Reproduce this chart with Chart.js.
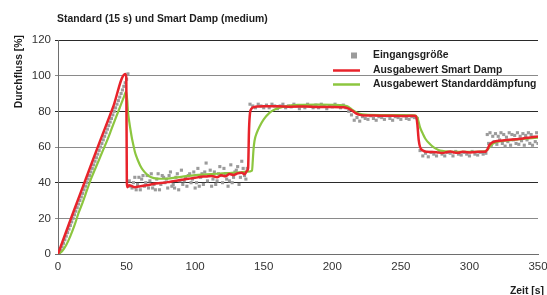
<!DOCTYPE html>
<html>
<head>
<meta charset="utf-8">
<script src="https://cdn.jsdelivr.net/npm/chart.js@4"></script>
<style>
    html, body { margin: 0; padding: 0; background: #ffffff; }
    #wrap { width: 547px; height: 295px; position: relative; }
</style>
</head>
<body>
<div id="wrap"><canvas id="dampChart"></canvas></div>
<script>
// -- Texts --
const TITLE = "Standard (15 s) und Smart Damp (medium)";
const X_TITLE = "Zeit [s]";
const Y_TITLE = "Durchfluss [%]";
const SERIES_LABELS = ["Eingangsgröße", "Ausgabewert Smart Damp", "Ausgabewert Standarddämpfung"];

// -- Ticks --
const X_TICKS = [0, 50, 100, 150, 200, 250, 300, 350];
const Y_TICKS = [0, 20, 40, 60, 80, 100, 120];

// -- Data: Eingangsgröße (measured input, gray squares) --
const inputT = [
    1, 2, 3, 4, 5, 6, 7, 8, 9, 10, 11, 12, 13, 14, 15, 16, 17, 18, 19, 20, 21, 22, 23, 24, 25, 26,
    27, 28, 29, 30, 31, 32, 33, 34, 35, 36, 37, 38, 39, 40, 41, 42, 43, 44, 45, 46, 47, 48, 49, 50, 51,
    52, 53, 54, 55, 56, 57, 58, 59, 60, 61, 62, 63, 64, 65, 66, 67, 68, 69, 70, 71, 72, 73, 74, 75,
    76, 77, 78, 79, 80, 81, 82, 83, 84, 85, 86, 87, 88, 89, 90, 91, 92, 93, 94, 95, 96, 97, 98, 99,
    100, 101, 102, 103, 104, 105, 106, 107, 108, 109, 110, 111, 112, 113, 114, 115, 116, 117, 118, 119,
    120, 121, 122, 123, 124, 125, 126, 127, 128, 129, 130, 131, 132, 133, 134, 135, 136, 137, 138,
    140, 142, 144, 146, 148, 150, 152, 154, 156, 158, 160, 162, 164, 166, 168, 170, 172, 174, 176, 178,
    180, 182, 184, 186, 188, 190, 192, 194, 196, 198, 200, 202, 204, 206, 208, 210, 212,
    214, 216, 218, 220, 222, 224, 226, 228, 230, 232, 234, 236, 238, 240, 242, 244, 246, 248, 250, 252,
    254, 256, 258, 260, 262,
    264, 266, 268, 270, 272, 274, 276, 278, 280, 282, 284, 286, 288, 290, 292, 294, 296, 298, 300, 302,
    304, 306, 308, 310, 312,
    313, 314, 315, 316, 317, 318, 319, 320, 321, 322, 323, 324, 325, 326, 327, 328, 329, 330, 331, 332,
    333, 334, 335, 336, 337, 338, 339, 340, 341, 342, 343, 344, 345, 346, 347, 348, 349, 350
];
const inputV = [
    0, 2, 4, 6, 8, 10, 12, 14, 16, 18, 20, 22, 24, 26, 28, 30, 32, 34, 36, 38, 40, 42, 44, 46, 48, 50,
    52, 54, 56, 58, 60, 62, 64, 66, 68, 70, 72, 74, 76, 78, 80, 82, 84, 86, 88, 90, 92, 94, 96, 98, 101,
    41, 38, 37, 40, 43, 36, 39, 43, 36, 42, 44, 38, 40, 44, 37, 41, 45, 37, 39, 36, 42, 45, 36, 39,
    44, 43, 40, 42, 37, 44, 46, 38, 39, 37, 43, 45, 36, 41, 47, 39, 41, 43, 38, 44, 45, 40, 42, 46,
    37, 40, 48, 38, 43, 45, 39, 46, 51, 41, 44, 47, 38, 42, 46, 39, 41, 45, 49, 44,
    40, 48, 45, 42, 38, 41, 50, 40, 43, 46, 47, 49, 39, 43, 52, 48, 44, 42, 48,
    84, 83, 82, 84, 83, 82, 83.5, 82, 84, 83, 81.5, 83, 84, 82, 83, 82.5, 84, 83, 81.5, 83,
    82, 84, 83, 82, 83.5, 82, 84, 83, 81.5, 83, 82.5, 84, 83, 82, 83.5, 82, 80,
    78, 75, 76.5, 74.5, 77, 76, 75.5, 77.5, 76, 75, 77, 76.5, 75.5, 77.5, 76, 75, 77, 76.5, 75.5, 77.5,
    76, 75.5, 77, 76.5, 76,
    58, 55, 56.5, 54.5, 57, 56, 55, 57.5, 56, 55, 57, 56.5, 55, 57.5, 56, 55.5, 57, 56, 55, 57.5,
    56, 55.5, 57, 56, 56.5,
    67, 62, 68, 61, 66, 63, 67.5, 61.5, 66, 64, 68, 62, 67, 60.5, 65.5, 63, 68, 61, 67, 64,
    66.5, 62, 68, 61.5, 66, 63.5, 67.5, 61, 66.5, 64, 68, 62, 67, 61, 65.5, 63, 68, 62
];

// -- Data: Ausgabewert Smart Damp (red) --
const smartT = [
    0, 10, 20, 30, 40, 49, 49.8, 50.2, 50.6, 52, 54, 56, 60, 63, 67, 70, 75, 80, 85, 90, 95, 100,
    104, 108, 112, 116, 119, 122, 125, 128, 131, 134, 136, 137.8, 138.6, 139.3, 140, 141, 143, 146,
    150, 160, 170, 180, 190, 200, 208, 211, 214, 217, 220, 223, 230, 240, 250, 258, 261, 262, 263,
    264, 266, 269, 272, 276, 280, 283, 286, 289, 292, 295, 298, 300, 303, 306, 311, 313, 314.5, 316,
    319, 324, 329, 334, 339, 344, 350
];
const smartV = [
    0, 21, 41.5, 62, 82, 101, 99, 40, 37.5, 38.5, 38, 37.5, 38, 38.4, 38.8, 39.4, 39.8, 40.3, 41, 41.6, 42.2, 42.7,
    43.3, 43.5, 43.8, 43.1, 44.2, 43.6, 44.8, 44.3, 45.2, 45.5, 44.7, 46.6, 48, 70, 79, 81.4, 82.4, 82.7,
    82.8, 82.8, 82.6, 82.7, 82.4, 82.5, 82.3, 81.8, 80.6, 79, 78, 77.7, 77.6, 77.5, 77.4, 77.5, 77.4, 73, 64,
    60, 58, 57.3, 57.2, 57.1, 56.6, 57, 57.5, 56.9, 56.8, 57.3, 57.1, 56.9, 57.1, 57.3, 57.3, 58.5, 61, 62.3,
    63.2, 63.6, 64, 64.4, 64.8, 65.3, 65.9
];

// -- Data: Ausgabewert Standarddämpfung (green) --
const stdT = [
    0, 3, 6, 9, 12, 15, 18, 21, 24, 27, 30, 33, 36, 39, 42, 45, 48, 49.7, 50.5, 51, 52, 53, 54, 55,
    56, 57, 58, 60, 62, 65, 68, 72, 78, 85, 92, 100, 108, 116, 124, 132, 138, 141.5, 142, 142.5, 143.3,
    145, 147, 150, 154, 158, 164, 170, 175, 190, 200, 208, 211, 214, 217, 220, 224, 235, 250, 260, 262,
    263, 264, 266, 268, 271, 274, 277, 280, 285, 295, 305, 311, 313, 315, 317, 320, 326, 335, 343, 350
];
const stdV = [
    0, 1.5, 5, 10, 16, 23, 29, 35.5, 42, 47.5, 53, 58.5, 64, 70, 76, 82, 88, 91, 86, 80, 74, 69, 64.5, 61,
    57.5, 55, 53, 49.5, 47, 44.5, 43, 42.3, 42.2, 42.8, 43.5, 44.2, 44.6, 45, 45.4, 45.8, 46.2, 46.8, 52, 58, 63.5,
    68, 71.5, 75.5, 79, 81, 82.5, 83.3, 83.6, 83.8, 83.7, 83.4, 82.8, 81.2, 79.6, 78.6, 78.1, 77.9, 77.9, 77.8, 76.5,
    74, 71, 67.5, 64.5, 61.8, 59.8, 58.5, 57.8, 57.4, 57.3, 57.3, 57.5, 58.3, 60.3, 61.8, 62.8, 63.5, 64.2, 64.8, 65.3
];

// -- Styles --
const FONT = "'Liberation Sans', Arial, sans-serif";
const COLOR_INPUT = '#9b9b9b';
const COLOR_SMART = '#e8232b';
const COLOR_STD = '#8cc63f';
const TEXT_DARK = '#1e1e1e';

function toPoints(xs, ys) {
    return xs.map((x, i) => ({ x: x, y: ys[i] }));
}

// draws title, axis titles and the in-plot legend
const decorPlugin = {
    id: 'decor',
    afterDraw(chart) {
        const ctx = chart.ctx;
        const ds = chart.data.datasets;
        ctx.save();
        ctx.fillStyle = TEXT_DARK;
        ctx.font = 'bold 10.4px ' + FONT;
        ctx.textBaseline = 'middle';

        ctx.textAlign = 'left';
        ctx.fillText(TITLE, 57, 19.5);

        ctx.textAlign = 'right';
        ctx.fillText(X_TITLE, 544, 291);

        ctx.save();
        ctx.translate(19, 35);
        ctx.rotate(-Math.PI / 2);
        ctx.textAlign = 'right';
        ctx.fillText(Y_TITLE, 0, 0);
        ctx.restore();

        // legend
        const rowsY = [55.5, 70.5, 84.5];
        ds.forEach((d, i) => {
            const y = rowsY[i];
            if (d.showLine === false) {
                ctx.fillStyle = d.backgroundColor;
                ctx.fillRect(351, y - 3, 6, 6);
            } else {
                ctx.strokeStyle = d.borderColor;
                ctx.lineWidth = 2.5;
                ctx.beginPath();
                ctx.moveTo(333, y);
                ctx.lineTo(360, y);
                ctx.stroke();
            }
            ctx.fillStyle = TEXT_DARK;
            ctx.textAlign = 'left';
            ctx.fillText(d.label, 373, y);
        });
        ctx.restore();
    }
};

function gridColor(ctx) {
    const v = ctx.tick ? ctx.tick.value : 0;
    if (v === 0) return '#6e6e6e';
    if (v === 120 || v === 80 || v === 40) return '#2a2a2a';
    return '#8a8a8a';
}

// -- Chart --
const chart = new Chart(document.getElementById('dampChart'), {
    type: 'line',
    data: {
        datasets: [
            {
                label: SERIES_LABELS[0],
                data: toPoints(inputT, inputV),
                showLine: false,
                pointStyle: 'rect',
                pointRadius: 2.2,
                pointBorderWidth: 0,
                backgroundColor: COLOR_INPUT,
                borderColor: COLOR_INPUT,
                order: 2
            },
            {
                label: SERIES_LABELS[1],
                data: toPoints(smartT, smartV),
                borderColor: COLOR_SMART,
                borderWidth: 2.5,
                pointRadius: 0,
                cubicInterpolationMode: 'monotone',
                order: 0
            },
            {
                label: SERIES_LABELS[2],
                data: toPoints(stdT, stdV),
                borderColor: COLOR_STD,
                borderWidth: 2.2,
                pointRadius: 0,
                cubicInterpolationMode: 'monotone',
                order: 1
            }
        ]
    },
    options: {
        responsive: true,
        maintainAspectRatio: false,
        animation: false,
        devicePixelRatio: 1,
        layout: { padding: { left: 0, right: 9, top: 40, bottom: 0 } },
        plugins: {
            legend: { display: false },
            tooltip: { enabled: false },
            title: { display: false }
        },
        scales: {
            x: {
                type: 'linear',
                min: X_TICKS[0],
                max: X_TICKS[X_TICKS.length - 1],
                afterBuildTicks: (s) => { s.ticks = X_TICKS.map(v => ({ value: v })); },
                ticks: { color: '#333333', font: { family: FONT, size: 11.5 }, padding: 6, maxRotation: 0 },
                grid: { display: false, drawTicks: false },
                border: { display: true, color: '#6e6e6e', width: 1 },
                afterFit: (s) => { s.height = 41; s.paddingLeft = 0; s.paddingRight = 0; }
            },
            y: {
                type: 'linear',
                min: Y_TICKS[0],
                max: Y_TICKS[Y_TICKS.length - 1],
                afterBuildTicks: (s) => { s.ticks = Y_TICKS.map(v => ({ value: v })); },
                ticks: { color: '#333333', font: { family: FONT, size: 11.5 }, padding: 4 },
                grid: { color: gridColor, lineWidth: 1, tickLength: 3 },
                border: { display: true, color: '#6e6e6e', width: 1 },
                afterFit: (s) => { s.width = 58; s.paddingTop = 0; s.paddingBottom = 0; }
            }
        }
    },
    plugins: [decorPlugin]
});
</script>
</body>
</html>
